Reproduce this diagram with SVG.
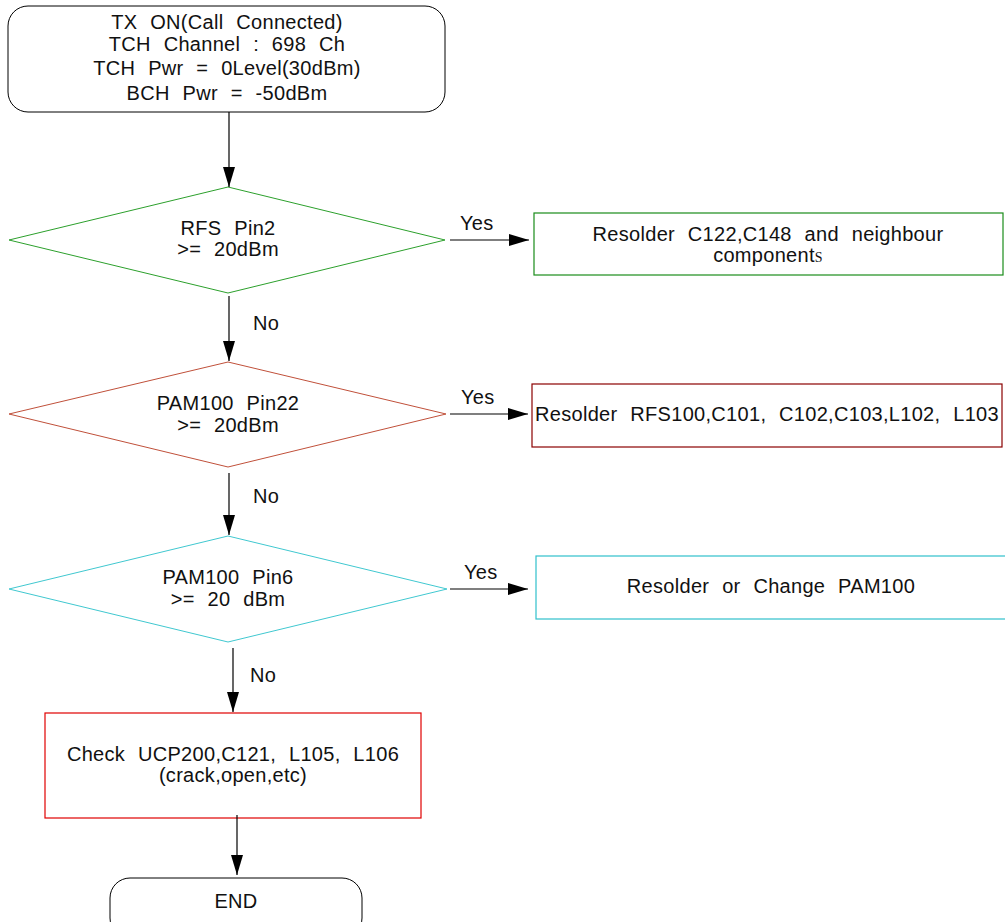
<svg xmlns="http://www.w3.org/2000/svg" width="1005" height="922" viewBox="0 0 1005 922">
<defs>
<marker id="ah" viewBox="0 0 20 12" refX="20" refY="6" markerWidth="20" markerHeight="12" markerUnits="userSpaceOnUse" orient="auto">
<path d="M0,0 L20,6 L0,12 Z" fill="#000"/>
</marker>
</defs>
<style>
text{font-family:"Liberation Sans",Arial,sans-serif;font-size:20px;fill:#111;text-anchor:middle;word-spacing:7px;letter-spacing:0.3px}
.c{stroke:#000;stroke-width:1.2;fill:none;marker-end:url(#ah)}
.lbl{text-anchor:start;word-spacing:0}
</style>
<rect width="1005" height="922" fill="#fff"/>
<g id="start">
<rect x="8" y="6" width="437" height="106" rx="20" fill="#fff" stroke="#000" stroke-width="1"/>
<text x="227" y="29">TX ON(Call Connected)</text>
<text x="227" y="51">TCH Channel : 698 Ch</text>
<text x="227" y="75">TCH Pwr = 0Level(30dBm)</text>
<text x="227" y="100">BCH Pwr = -50dBm</text>
</g>
<g id="d1">
<polygon points="9,240 228,187 445,240 228,293" fill="#fff" stroke="#2ca02c" stroke-width="1"/>
<text x="228" y="235">RFS Pin2</text>
<text x="228" y="256">&gt;= 20dBm</text>
</g>
<g id="b1">
<rect x="534" y="213" width="469" height="62" fill="#fff" stroke="#1a8c1a" stroke-width="1.2"/>
<text x="768" y="241">Resolder C122,C148 and neighbour</text>
<text x="768" y="262">component<tspan font-family="Liberation Serif, serif" font-size="14">S</tspan></text>
</g>
<g id="d2">
<polygon points="9,414 228,362 446,414 228,467" fill="#fff" stroke="#c0503a" stroke-width="1"/>
<text x="228" y="410">PAM100 Pin22</text>
<text x="228" y="432">&gt;= 20dBm</text>
</g>
<g id="b2">
<rect x="532" y="384" width="470" height="63" fill="#fff" stroke="#8b0000" stroke-width="1.2"/>
<text x="767" y="421">Resolder RFS100,C101, C102,C103,L102, L103</text>
</g>
<g id="d3">
<polygon points="9,589 228,536 447,589 228,642" fill="#fff" stroke="#40c8d0" stroke-width="1"/>
<text x="228" y="584">PAM100 Pin6</text>
<text x="228" y="606">&gt;= 20 dBm</text>
</g>
<g id="b3">
<rect x="536" y="556" width="470" height="63" fill="#fff" stroke="#30c0cc" stroke-width="1.2"/>
<text x="771" y="593">Resolder or Change PAM100</text>
</g>
<g id="b4">
<rect x="45" y="713" width="376" height="105" fill="#fff" stroke="#e00000" stroke-width="1.2"/>
<text x="233" y="761">Check UCP200,C121, L105, L106</text>
<text x="233" y="782">(crack,open,etc)</text>
</g>
<g id="end">
<rect x="110" y="878" width="252" height="60" rx="20" fill="#fff" stroke="#000" stroke-width="1"/>
<text x="236" y="908">END</text>
</g>
<g id="connectors">
<line class="c" x1="229" y1="112" x2="229" y2="187"/>
<line class="c" x1="450" y1="240" x2="529" y2="240"/>
<line class="c" x1="229" y1="296" x2="229" y2="361"/>
<line class="c" x1="450" y1="414" x2="528" y2="414"/>
<line class="c" x1="229" y1="473" x2="229" y2="535"/>
<line class="c" x1="450" y1="589" x2="528" y2="589"/>
<line class="c" x1="233" y1="648" x2="233" y2="712"/>
<line class="c" x1="237" y1="815" x2="237" y2="875"/>
<text class="lbl" x="460" y="230">Yes</text>
<text class="lbl" x="461" y="404">Yes</text>
<text class="lbl" x="464" y="579">Yes</text>
<text class="lbl" x="253" y="330">No</text>
<text class="lbl" x="253" y="503">No</text>
<text class="lbl" x="250" y="682">No</text>
</g>
</svg>
